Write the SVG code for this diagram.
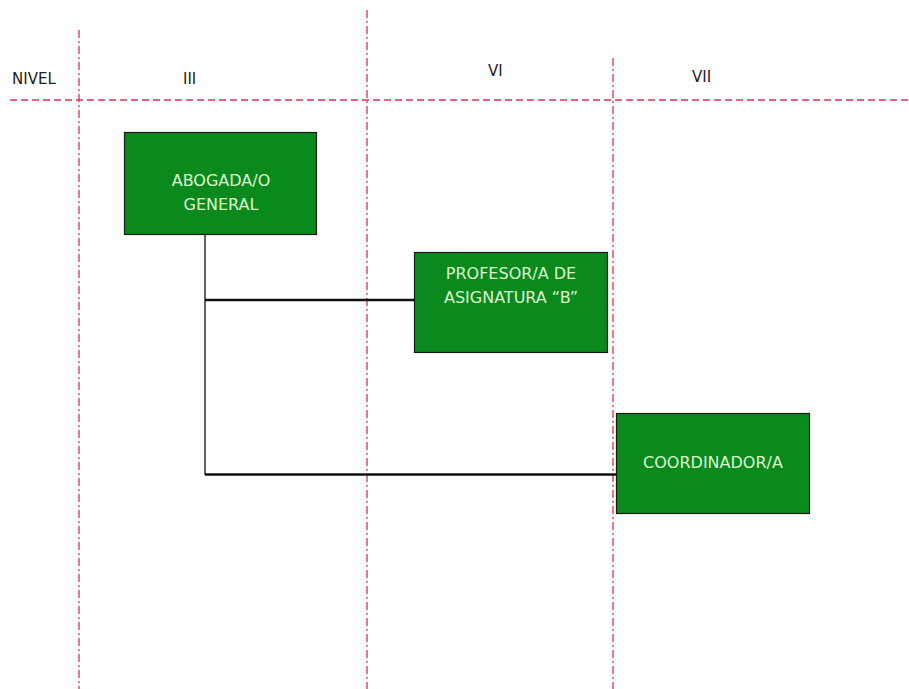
<svg xmlns="http://www.w3.org/2000/svg" width="909" height="689" viewBox="0 0 909 689">
<style>
.grid{stroke:#e2304e;stroke-width:1.3;fill:none}
.v{stroke-dasharray:8 3 2 3}
.h{stroke-dasharray:7 4}
.box{fill:#0a8a1c;stroke:#1a1a1a;stroke-width:1.2}
.bt{font-family:"DejaVu Sans",sans-serif;font-size:16px;fill:#dcf7d0;text-anchor:middle}
.lbl{font-family:"DejaVu Sans",sans-serif;font-size:15px;fill:#222}
.conn{stroke:#111;fill:none}
</style>
<rect width="909" height="689" fill="#fff"/>
<g id="grid">
<line class="grid v" x1="79" y1="30" x2="79" y2="689"/>
<line class="grid v" x1="367" y1="10" x2="367" y2="689"/>
<line class="grid v" x1="613" y1="58" x2="613" y2="689"/>
<line class="grid h" x1="10" y1="100" x2="909" y2="100"/>
</g>
<g id="labels">
<text class="lbl" x="12" y="84">NIVEL</text>
<text class="lbl" x="183" y="84">III</text>
<text class="lbl" x="488" y="76">VI</text>
<text class="lbl" x="692" y="82">VII</text>
</g>
<g id="connectors">
<line class="conn" x1="205" y1="234" x2="205" y2="475" stroke-width="1.3"/>
<line class="conn" x1="205" y1="300" x2="414" y2="300" stroke-width="2.5"/>
<line class="conn" x1="205" y1="474.5" x2="616" y2="474.5" stroke-width="2.5"/>
</g>
<g id="node-abogado">
<rect class="box" x="124.5" y="132.5" width="192" height="102"/>
<text class="bt" x="221" y="186">ABOGADA/O</text>
<text class="bt" x="221" y="210">GENERAL</text>
</g>
<g id="node-profesor">
<rect class="box" x="414.5" y="252.5" width="193" height="100"/>
<text class="bt" x="511" y="279">PROFESOR/A DE</text>
<text class="bt" x="511" y="303">ASIGNATURA “B”</text>
</g>
<g id="node-coordinador">
<rect class="box" x="616.5" y="413.5" width="193" height="100"/>
<text class="bt" x="713" y="468">COORDINADOR/A</text>
</g>
</svg>
